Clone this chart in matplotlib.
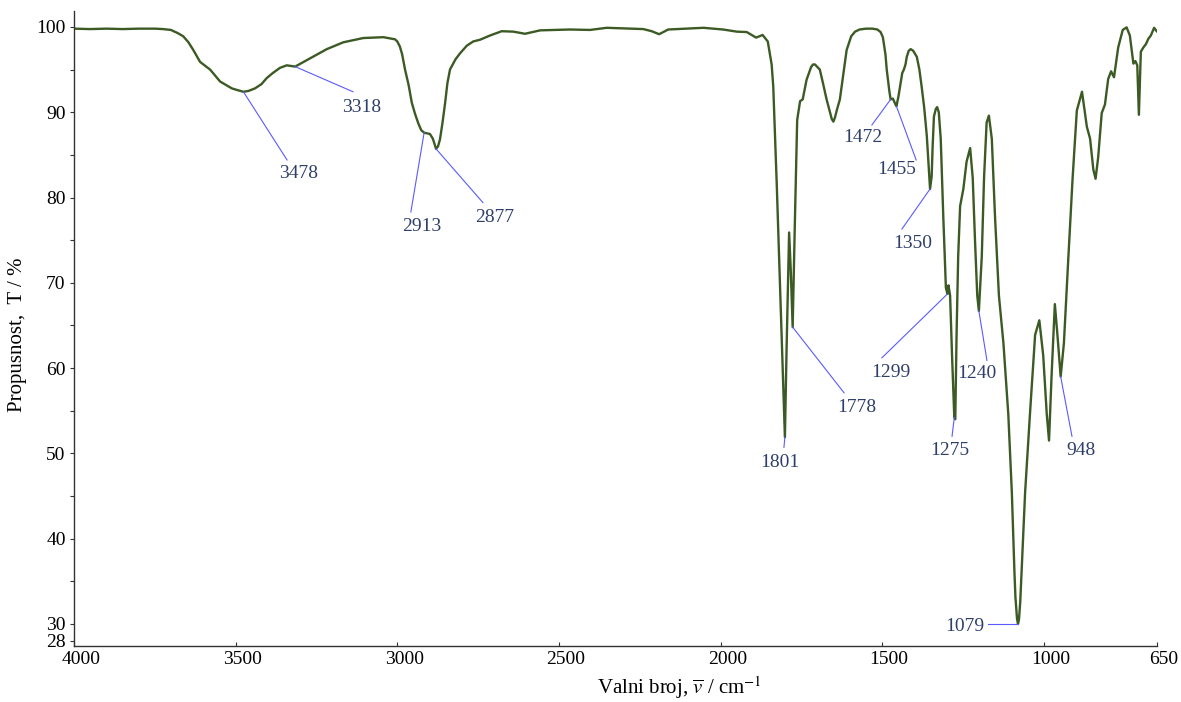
"""IR spectrum (transmittance vs wavenumber) with labelled bands."""

import matplotlib
matplotlib.use("Agg")
from matplotlib import pyplot as plt
from matplotlib import transforms

# spectrum, wavenumber in cm-1, T in %
wavenumber = [
    4000, 3950, 3900, 3850, 3800, 3750, 3725, 3712, 3700, 3692, 3680, 3662,
    3646, 3631, 3610, 3579, 3548, 3512, 3495, 3476, 3460, 3440, 3420, 3404,
    3385, 3363, 3342, 3316, 3280, 3218, 3167, 3105, 3043, 3007, 3000, 2992,
    2985, 2976, 2965, 2955, 2945, 2935, 2926, 2917, 2899, 2890, 2880, 2874,
    2868, 2860, 2852, 2845, 2837, 2820, 2806, 2785, 2765, 2744, 2713, 2677,
    2641, 2605, 2558, 2466, 2404, 2352, 2239, 2213, 2190, 2162, 2053, 1992,
    1950, 1919, 1890, 1870, 1854, 1842, 1837, 1826, 1816, 1806, 1801, 1796,
    1788, 1783, 1777, 1770, 1763, 1754, 1746, 1734, 1720, 1714, 1708, 1693,
    1682, 1672, 1660, 1656, 1651, 1646, 1640, 1631, 1620, 1610, 1596, 1584,
    1570, 1550, 1530, 1515, 1505, 1498, 1490, 1486, 1478, 1474, 1467, 1460,
    1456, 1450, 1445, 1438, 1433, 1428, 1424, 1418, 1412, 1404, 1393, 1385,
    1378, 1370, 1362, 1356, 1352, 1347, 1344, 1340, 1334, 1330, 1325, 1319,
    1311, 1303, 1298, 1295, 1290, 1284, 1277, 1274, 1270, 1265, 1259, 1254,
    1249, 1239, 1228, 1220, 1213, 1206, 1201, 1192, 1185, 1177, 1170, 1161,
    1151, 1139, 1125, 1110, 1099, 1091, 1088, 1083, 1080, 1077, 1073, 1058,
    1043, 1027, 1014, 1002, 991, 984, 976, 966, 958, 948, 938, 924,
    911, 898, 882, 867, 857, 847, 840, 832, 821, 811, 801, 792,
    783, 770, 756, 744, 734, 723, 717, 711, 706, 700, 692, 684,
    677, 669, 659, 651,
]
transmittance = [
    99.8, 99.75, 99.8, 99.75, 99.8, 99.8, 99.75, 99.7, 99.65, 99.5, 99.3, 98.9,
    98.2, 97.3, 95.9, 95.0, 93.6, 92.8, 92.6, 92.4, 92.5, 92.8, 93.3, 94.0,
    94.6, 95.2, 95.5, 95.35, 96.1, 97.4, 98.2, 98.7, 98.8, 98.55, 98.3, 97.7,
    96.8, 95.0, 93.2, 91.1, 89.8, 88.7, 87.9, 87.6, 87.45, 86.9, 85.7, 86.0,
    86.8, 88.8, 91.1, 93.4, 95.0, 96.2, 96.9, 97.8, 98.3, 98.5, 99.0, 99.5,
    99.45, 99.2, 99.6, 99.7, 99.65, 99.9, 99.75, 99.5, 99.15, 99.7, 99.9, 99.7,
    99.45, 99.4, 98.75, 99.06, 98.3, 95.6, 93.0, 81.3, 69.6, 57.9, 51.9, 61.9,
    75.9, 71.6, 64.8, 77.4, 89.1, 91.3, 91.5, 93.8, 95.3, 95.6, 95.6, 95.0,
    93.2, 91.5, 89.8, 89.2, 88.9, 89.4, 90.3, 91.5, 94.5, 97.3, 98.9, 99.45,
    99.7, 99.8, 99.8, 99.7, 99.4, 98.8, 96.8, 95.0, 92.5, 91.5, 91.6, 91.0,
    90.7, 91.8, 93.0, 94.6, 95.0, 95.6, 96.5, 97.2, 97.4, 97.2, 96.5, 95.0,
    93.0, 90.5, 87.2, 83.5, 81.0, 82.5, 86.0, 89.5, 90.4, 90.6, 90.0, 86.9,
    77.7, 69.4, 68.7, 69.7, 68.5, 61.5, 54.2, 54.0, 63.9, 73.1, 79.0, 80.0,
    81.0, 84.2, 85.8, 82.3, 75.0, 68.5, 66.7, 73.1, 82.3, 88.8, 89.6, 86.9,
    77.7, 68.5, 62.9, 54.6, 45.4, 36.1, 33.2, 30.6, 30.0, 30.5, 32.6, 45.4,
    54.6, 63.9, 65.6, 61.5, 54.6, 51.5, 59.2, 67.5, 63.9, 59.0, 62.9, 73.1,
    82.3, 90.2, 92.4, 88.3, 86.9, 83.3, 82.2, 84.7, 89.9, 90.9, 93.9, 94.8,
    94.1, 97.6, 99.65, 99.95, 99.0, 95.7, 96.0, 95.5, 89.7, 97.1, 97.6, 98.0,
    98.6, 99.0, 99.9, 99.5,
]

# band labels: text, band point (wn, T), leader end (wn, T), text anchor (wn, T)
band_labels = ["3478", "3318", "2913", "2877", "1801", "1778", "1472",
               "1455", "1350", "1299", "1275", "1240", "948", "1079"]
band_points = [(3476, 92.4), (3316, 95.35), (2917, 87.6), (2880, 85.7),
               (1801, 51.9), (1777, 64.8), (1474, 91.5), (1456, 90.7),
               (1352, 81.0), (1298, 68.7), (1277, 54.2), (1201, 66.7),
               (948, 59.0), (1080, 30.0)]
leader_ends = [(3341, 84.4), (3137, 92.4), (2958, 78.3), (2735, 79.4),
               (1804, 50.7), (1618, 57.1), (1532, 88.5), (1395, 84.4),
               (1439, 76.3), (1501, 61.2), (1284, 52.0), (1176, 60.9),
               (913, 52.0), (1173, 30.0)]
text_anchors = [(3304, 82.8), (3109, 90.6), (2924, 76.6), (2698, 77.6),
                (1816, 48.9), (1578, 55.4), (1559, 87.0), (1454, 83.3),
                (1405, 74.6), (1473, 59.5), (1290, 50.3), (1207, 59.4),
                (885, 50.3), (1185, 29.7)]

x_ticks = [4000, 3500, 3000, 2500, 2000, 1500, 1000, 650]
y_ticks = [28, 30, 40, 50, 60, 70, 80, 90, 100]
y_minor = [35, 45, 55, 65, 75, 85, 95]

plt.rcParams["font.family"] = ["Liberation Serif", "DejaVu Serif"]
plt.rcParams["mathtext.fontset"] = "stix"

fig = plt.figure(figsize=(11.81, 7.02), dpi=100)
ax = fig.add_axes([74 / 1181, 56.5 / 702, 1083 / 1181, 634.5 / 702])

ax.plot(wavenumber, transmittance, color="#3c5a24", lw=1.7,
        solid_joinstyle="round")

for i, label in enumerate(band_labels):
    (px, py), (ex, ey), (tx, ty) = band_points[i], leader_ends[i], text_anchors[i]
    ax.plot([px, ex], [py, ey], color="#5a5aff", lw=0.8)
    ha = "right" if label == "1079" else "center"
    ax.text(tx, ty, label, ha=ha, va="center", fontsize=14, color="#2f3f6a")

ax.set_xlim(4000, 650)
ax.set_ylim(27.47, 101.87)
ax.set_xticks(x_ticks)
ax.set_yticks(y_ticks)
ax.set_yticks(y_minor, minor=True)

for side in ["top", "right"]:
    ax.spines[side].set_visible(False)
for side in ["left", "bottom"]:
    ax.spines[side].set_color("#333333")
    ax.spines[side].set_linewidth(1.0)

ax.tick_params(axis="x", direction="in", length=3, width=0.8, labelsize=14,
               pad=4, colors="#333333", labelcolor="black")
ax.tick_params(axis="y", which="both", direction="out", length=3, width=0.8,
               labelsize=14, pad=3, colors="#333333", labelcolor="black")

# the reference draws x tick labels a bit right of their ticks
shift = transforms.ScaledTranslation(7 / 100, 0, fig.dpi_scale_trans)
for lab in ax.get_xticklabels():
    lab.set_transform(lab.get_transform() + shift)

ax.set_xlabel(r"Valni broj, $\overline{v}$ / cm$^{-1}$", fontsize=15)
ax.xaxis.set_label_coords((679 - 74) / 1083, -0.045)
ax.set_ylabel("Propusnost,  T / %", fontsize=15)
ax.yaxis.set_label_coords(-0.043, 0.49)

fig.savefig("out.png", dpi=100)
